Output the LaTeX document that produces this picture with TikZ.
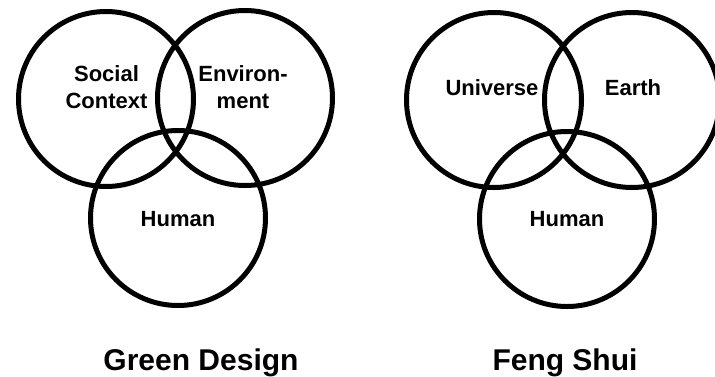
\documentclass[tikz,border=0pt]{standalone}
\usepackage{fontspec}
\setmainfont{Liberation Sans}
\begin{document}
\begin{tikzpicture}[x=1pt,y=-1pt,
  vc/.style={circle, draw=black, line width=5pt, minimum size=175pt, inner sep=0pt, outer sep=0pt},
  lbl/.style={font=\fontsize{22}{26.6}\selectfont\bfseries, align=center, inner sep=0pt, anchor=base},
  ttl/.style={font=\fontsize{30}{34}\selectfont\bfseries, inner sep=0pt, anchor=base}]
\useasboundingbox (0,0) rectangle (715,376);
\begin{scope}
\clip (0,0) rectangle (715,376);
% Green Design
\node[vc] (gs) at (106,99) {};
\node[vc] (ge) at (245,98) {};
\node[vc] (gh) at (178,218) {};
% Feng Shui
\node[vc] (fu) at (494,100) {};
\node[vc] (fe) at (632,100) {};
\node[vc] (fh) at (567,219) {};
\end{scope}
\node[lbl] (tsoc) at (106.5,108.3) {Social\\Context};
\node[lbl] (tenv) at (243,108.3) {Environ-\\ment};
\node[lbl] (tgh) at (178,226.7) {Human};
\node[lbl] (tuni) at (492,95) {Universe};
\node[lbl] (tear) at (633,95) {Earth};
\node[lbl] (tfh) at (567,226.7) {Human};
\node[ttl] (tg) at (201,370) {Green Design};
\node[ttl] (tf) at (565,370) {Feng Shui};
\end{tikzpicture}
\end{document}
